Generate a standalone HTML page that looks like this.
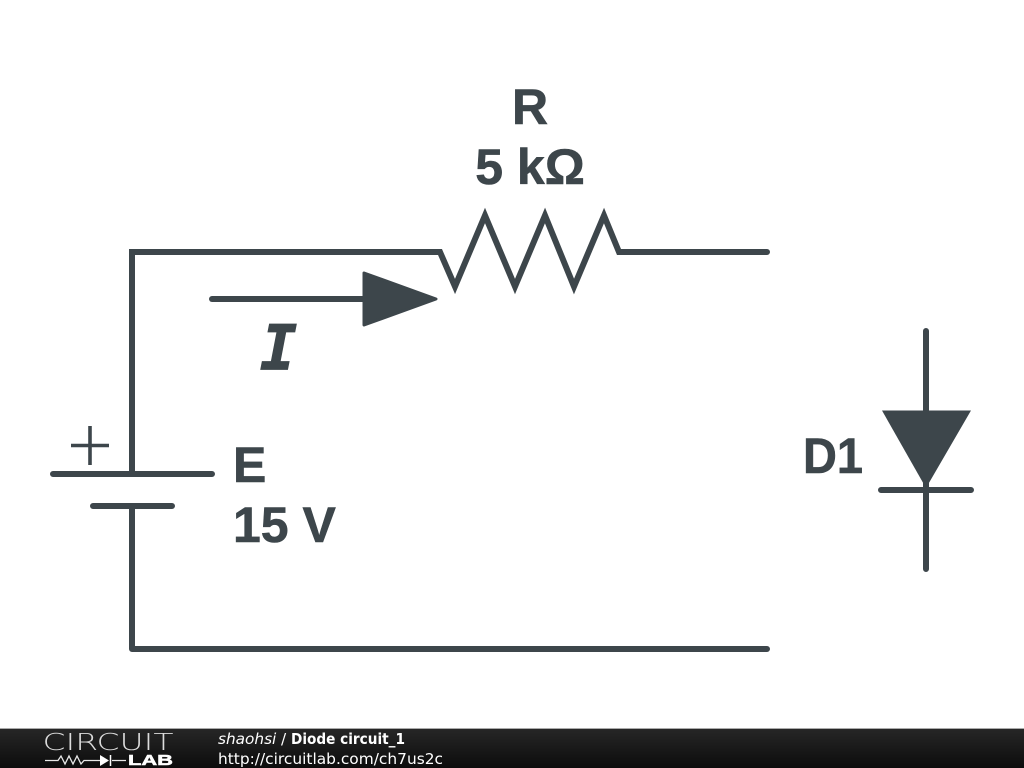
<!DOCTYPE html>
<html><head><meta charset="utf-8"><style>
html,body{margin:0;padding:0;background:#fff;width:1024px;height:768px;overflow:hidden}
svg{display:block}
</style></head><body>
<svg width="1024" height="768" viewBox="0 0 1024 768" xmlns="http://www.w3.org/2000/svg">
<defs><linearGradient id="g" x1="0" y1="0" x2="0" y2="1"><stop offset="0" stop-color="#262626"/><stop offset="1" stop-color="#0c0c0c"/></linearGradient></defs>
<rect width="1024" height="768" fill="#fff"/>
<g fill="none" stroke="#3d464b" stroke-width="6" stroke-linecap="round" stroke-linejoin="miter" stroke-miterlimit="10">
<path d="M132 473V252H440L455 286.500L485 215.500L515 286.500L545 215.500L574 286.500L604 215.500L619 252H767"/>
<path d="M132 506V649H767" stroke-linejoin="round"/>
<path d="M53 474H212M93 506H172"/>
<path d="M926 331V569M881 490H971"/>
<path d="M212 299H365"/>
</g>
<path d="M71 445.500H109M90 426V465" fill="none" stroke="#3d464b" stroke-width="3.600"/>
<path d="M882 410.500H971L926 488Z" fill="#3d464b"/>
<path d="M364 273L436 299L364 325Z" fill="#3d464b" stroke="#3d464b" stroke-width="3" stroke-linejoin="round"/>
<g font-family="'Liberation Sans',sans-serif" font-weight="700" font-size="50" fill="#3d464b" stroke="#3d464b" stroke-width="0.600">
<text x="530" y="124" text-anchor="middle">R</text>
<text x="530" y="184" text-anchor="middle">5 kΩ</text>
<text x="233" y="482">E</text>
<text x="233" y="542">15 V</text>
<text x="803" y="473" textLength="60" lengthAdjust="spacingAndGlyphs">D1</text>
</g>
<text x="278.500" y="369.500" text-anchor="middle" font-family="'DejaVu Sans Mono',monospace" font-weight="700" font-style="italic" font-size="62" fill="#3d464b" stroke="#3d464b" stroke-width="0.800">I</text>
<rect y="728" width="1024" height="1" fill="#aaa"/>
<rect y="729" width="1024" height="39" fill="url(#g)"/>
<text x="42.500" y="750" font-family="'DejaVu Sans',sans-serif" font-weight="200" font-size="23.500" fill="#dcdcdc" textLength="131" lengthAdjust="spacingAndGlyphs">CIRCUIT</text>
<text x="128" y="765" font-family="'Liberation Sans',sans-serif" font-weight="700" font-size="14.500" fill="#fff" stroke="#fff" stroke-width="0.500" textLength="45" lengthAdjust="spacingAndGlyphs">LAB</text>
<path d="M45 760.500H58L61 756L65 764L69 756L73 764L77 756L81 764L84 760.500H100M112 760.500H126" fill="none" stroke="#e8e8e8" stroke-width="1.300"/>
<path d="M100 755L109 760.500L100 766Z" fill="#fff"/>
<path d="M110.500 755V766" stroke="#fff" stroke-width="1.500"/>
<g font-family="'DejaVu Sans',sans-serif" font-size="15.300" fill="#fff">
<text x="218" y="744" font-style="italic">shaohsi</text>
<text x="281" y="744">/</text>
<text x="291" y="744" font-weight="700" textLength="114" lengthAdjust="spacingAndGlyphs">Diode circuit_1</text>
<text x="218" y="764" textLength="225" lengthAdjust="spacingAndGlyphs">http://circuitlab.com/ch7us2c</text>
</g>
</svg>
</body></html>
